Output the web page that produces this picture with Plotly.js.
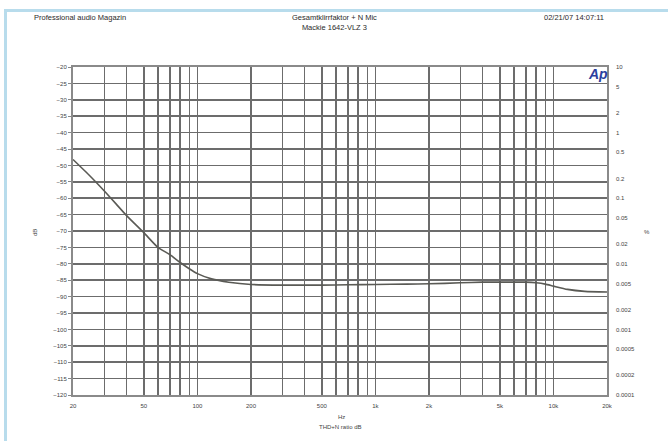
<!DOCTYPE html>
<html>
<head>
<meta charset="utf-8">
<script src="https://cdn.plot.ly/plotly-3.0.1.min.js"></script>
<style>
  html, body { margin: 0; padding: 0; background: #ffffff; }
  #wrap { position: relative; width: 668px; height: 441px; overflow: hidden; }
  #chart { position: absolute; left: 0; top: 0; width: 668px; height: 441px; }
  #frame { position: absolute; left: 4px; top: 9px; width: 664px; height: 432px;
           border-left: 3px solid #b8dcec; border-top: 3px solid #b8dcec;
           box-sizing: border-box; pointer-events: none; }
</style>
</head>
<body>
<div id="wrap">
  <div id="chart"></div>
  <div id="frame"></div>
</div>
<script>
// ---- data ----
const freqHz = [20, 25, 30, 35, 40, 50, 60, 70, 80, 90, 100, 120, 150, 200, 300, 500, 700,
                1000, 1500, 2000, 3000, 4000, 5000, 7000, 8000, 9000, 10000, 12000, 15000, 20000];
const thdnDb = [-48.2, -53.3, -57.8, -61.8, -65.3, -70.5, -75.0, -77.2, -79.6, -81.5, -83.0,
                -84.6, -85.6, -86.3, -86.5, -86.5, -86.4, -86.3, -86.2, -86.1, -85.8, -85.6,
                -85.6, -85.6, -85.8, -86.2, -86.8, -87.8, -88.4, -88.6];

const xLabelVals = [20, 50, 100, 200, 500, 1000, 2000, 5000, 10000, 20000];
const xLabelText = ['20', '50', '100', '200', '500', '1k', '2k', '5k', '10k', '20k'];
const pctLabels = ['10', '5', '2', '1', '0.5', '0.2', '0.1', '0.05', '0.02', '0.01',
                   '0.005', '0.002', '0.001', '0.0005', '0.0002', '0.0001'];
const pctValues = [10, 5, 2, 1, 0.5, 0.2, 0.1, 0.05, 0.02, 0.01,
                   0.005, 0.002, 0.001, 0.0005, 0.0002, 0.0001];

const titleLeft = 'Professional audio Magazin';
const titleCenter = 'Gesamtklirrfaktor + N Mic<br>Mackie 1642-VLZ 3';
const titleRight = '02/21/07 14:07:11';
const xUnit = 'Hz';
const xSub = 'THD+N ratio dB';
const yLeftTitle = 'dB';
const yRightTitle = '%';

// ---- axis tick construction ----
const xGridVals = [], xGridText = [];
[10, 100, 1000, 10000].forEach(d => {
  for (let m = 1; m <= 9; m++) {
    const v = d * m;
    if (v < 20 || v > 20000) continue;
    xGridVals.push(v);
    const i = xLabelVals.indexOf(v);
    xGridText.push(i >= 0 ? xLabelText[i] : '');
  }
});
const pctDb = pctValues.map(p => 20 * Math.log10(p / 100));

const gridColor = '#6c6c6c';
const tickFont = { family: 'Liberation Sans, Arial, sans-serif', size: 6, color: '#444' };
const txtFont = { family: 'Liberation Sans, Arial, sans-serif', size: 7.5, color: '#2a2a2a' };

const traces = [
  { x: freqHz, y: thdnDb, type: 'scatter', mode: 'lines',
    line: { color: '#5a5a55', width: 1.6, shape: 'spline', smoothing: 0.6 },
    hoverinfo: 'skip', showlegend: false },
  { x: [freqHz[0]], y: [thdnDb[0]], yaxis: 'y2', type: 'scatter', mode: 'markers',
    marker: { opacity: 0 }, hoverinfo: 'skip', showlegend: false }
];

const layout = {
  width: 668, height: 441,
  margin: { l: 73, r: 61, t: 67, b: 46 },
  paper_bgcolor: 'rgba(0,0,0,0)',
  plot_bgcolor: '#ffffff',
  showlegend: false,
  xaxis: {
    type: 'log', range: [Math.log10(20), Math.log10(20000)],
    tickvals: xGridVals, ticktext: xGridText,
    showgrid: true, gridcolor: gridColor, gridwidth: 1.5,
    ticks: '', tickfont: tickFont, ticklabelstandoff: 4,
    showline: true, linecolor: '#8a8a8a', linewidth: 2, mirror: true,
    zeroline: false
  },
  yaxis: {
    range: [-120, -20], dtick: 5, tick0: -120,
    showgrid: true, gridcolor: gridColor, gridwidth: 1.5,
    ticks: 'outside', ticklen: 3, tickcolor: '#888', tickfont: tickFont,
    showline: true, linecolor: '#8a8a8a', linewidth: 2, mirror: true,
    zeroline: false
  },
  yaxis2: {
    overlaying: 'y', side: 'right', range: [-120, -20],
    tickvals: pctDb, ticktext: pctLabels, tickfont: tickFont,
    ticklabelstandoff: 8,
    showgrid: false, zeroline: false, ticks: '', showline: false
  },
  annotations: [
    { text: titleLeft, xref: 'paper', yref: 'paper', x: -0.0768, y: 1.1524,
      xanchor: 'left', yanchor: 'middle', showarrow: false, font: txtFont },
    { text: titleCenter, xref: 'paper', yref: 'paper', x: 0.4906, y: 1.137,
      xanchor: 'center', yanchor: 'middle', showarrow: false, font: txtFont },
    { text: titleRight, xref: 'paper', yref: 'paper', x: 0.998, y: 1.1524,
      xanchor: 'right', yanchor: 'middle', showarrow: false, font: txtFont },
    { text: xUnit, xref: 'paper', yref: 'paper', x: 0.5037, y: -0.067,
      xanchor: 'center', yanchor: 'middle', showarrow: false, font: tickFont },
    { text: xSub, xref: 'paper', yref: 'paper', x: 0.50, y: -0.0976,
      xanchor: 'center', yanchor: 'middle', showarrow: false, font: tickFont },
    { text: yLeftTitle, xref: 'paper', yref: 'paper', x: -0.0712, y: 0.497,
      xanchor: 'center', yanchor: 'middle', textangle: -90, showarrow: false, font: tickFont },
    { text: yRightTitle, xref: 'paper', yref: 'paper', x: 1.075, y: 0.497,
      xanchor: 'center', yanchor: 'middle', showarrow: false, font: tickFont },
    { text: '<b><i>Ap</i></b>', xref: 'paper', yref: 'paper', x: 0.983, y: 0.979,
      xanchor: 'center', yanchor: 'middle', showarrow: false,
      font: { family: 'Liberation Sans, Arial, sans-serif', size: 14, color: '#2b3f9e' } }
  ]
};

Plotly.newPlot('chart', traces, layout, { staticPlot: true, displayModeBar: false });
</script>
</body>
</html>
